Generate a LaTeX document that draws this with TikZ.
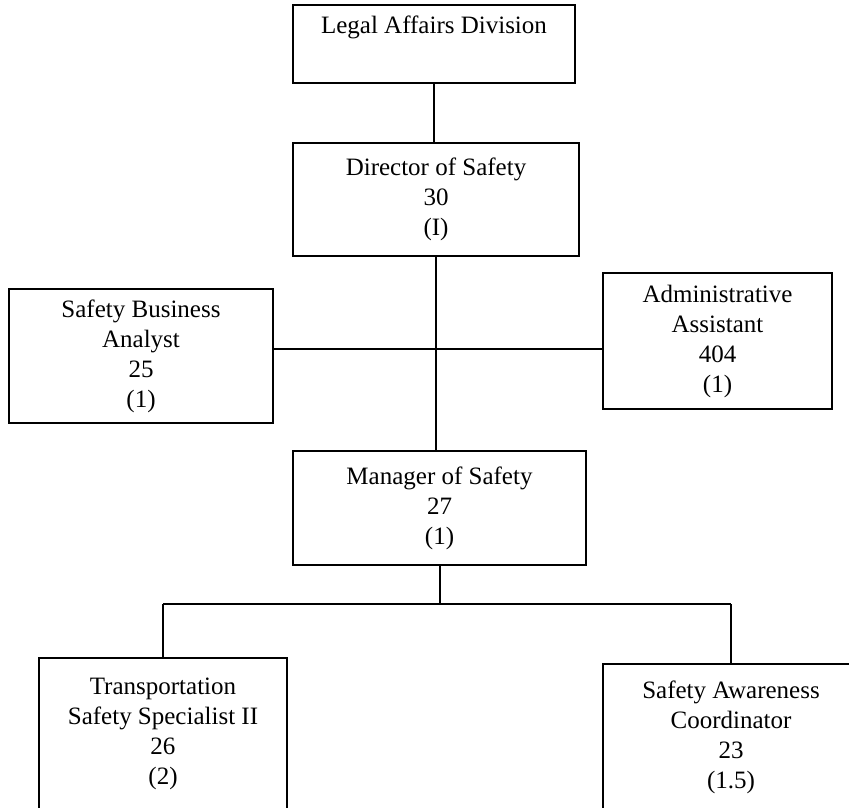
\documentclass[tikz,border=0pt]{standalone}
\usepackage{fontspec}
\setmainfont{Liberation Serif}
\usetikzlibrary{positioning}

\tikzset{
  orgbox/.style={draw, line width=1.5pt, align=center, inner sep=0pt,
    font=\fontsize{25}{30}\selectfont},
  orgline/.style={line width=2pt}
}

\begin{document}
\begin{tikzpicture}[x=1pt,y=1pt,yscale=-1,xscale=1]
\useasboundingbox (0,0) rectangle (849,807);
\clip (0,0) rectangle (849,807);

%Shape: Box [id:legal]
\node [orgbox, minimum width=282, minimum height=78] (legal) at (434,44) {Legal Affairs Division\\\strut};
%Shape: Box [id:director]
\node [orgbox, minimum width=286, minimum height=113] (director) at (436,199.5) {Director of Safety\\30\\(I)};
%Shape: Box [id:analyst]
\node [orgbox, minimum width=264, minimum height=134] (analyst) at (141,356) {Safety Business\\Analyst\\25\\(1)};
%Shape: Box [id:assistant]
\node [orgbox, minimum width=229, minimum height=136] (assistant) at (717.5,341) {Administrative\\Assistant\\404\\(1)};
%Shape: Box [id:manager]
\node [orgbox, minimum width=293, minimum height=114] (manager) at (439.5,508) {Manager of Safety\\27\\(1)};
%Shape: Box [id:specialist]
\node [orgbox, minimum width=248, minimum height=152] (specialist) at (163,734) {Transportation\\Safety Specialist II\\26\\(2)};
%Shape: Box [id:awareness]
\node [orgbox, minimum width=256, minimum height=146] (awareness) at (731,737) {Safety Awareness\\Coordinator\\23\\(1.5)};

% Connectors
\coordinate (hub) at (433,349);
\coordinate (split) at (439,604);
\draw [orgline] (legal.south) -- (legal.south |- director.north);
\draw [orgline] (director.south) -- (director.south |- manager.north);
\draw [orgline] (hub -| analyst.east) -- (hub -| assistant.west);
\draw [orgline] (manager.south) -- (manager.south |- split);
\draw [orgline] (split -| specialist.north) -- (split -| awareness.north);
\draw [orgline] (split -| specialist.north) -- (specialist.north);
\draw [orgline] (split -| awareness.north) -- (awareness.north);

\end{tikzpicture}
\end{document}
